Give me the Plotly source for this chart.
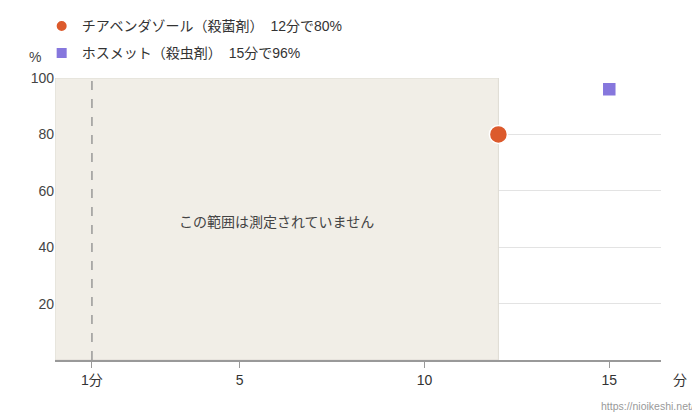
import plotly.graph_objects as go

# data
names = ["チアベンダゾール（殺菌剤）　12分で80%", "ホスメット（殺虫剤）　15分で96%"]
minutes = [12, 15]
percent = [80, 96]
colors = ["#dc5a2c", "#8677dd"]
symbols = ["circle", "square"]
sizes = [18, 14]

unmeasured_from = 0
unmeasured_to = 12
first_minute = 1

x_tickvals = [1, 5, 10, 15]
x_ticktext = ["1分", "5", "10", "15"]
y_tickvals = [20, 40, 60, 80, 100]

font_family = "Arial, Liberation Sans, Noto Sans CJK JP"

fig = go.Figure()
for i in range(len(names)):
    fig.add_trace(go.Scatter(
        x=[minutes[i]], y=[percent[i]], mode="markers", name=names[i],
        marker=dict(color=colors[i], symbol=symbols[i], size=sizes[i],
                    line=dict(color="white", width=1.5)),
        legend="legend" if i == 0 else "legend2",
        showlegend=True,
        cliponaxis=False,
    ))

# region that was not measured
fig.add_shape(type="rect", xref="x", yref="y",
              x0=unmeasured_from, x1=unmeasured_to, y0=0, y1=100,
              fillcolor="#f1eee7", line=dict(color="#dedbd4", width=1),
              layer="between")
fig.add_shape(type="line", xref="x", yref="y",
              x0=first_minute, x1=first_minute, y0=0, y1=100,
              line=dict(color="#8c8c8c", width=1.3, dash="dash"),
              layer="between")

fig.add_annotation(x=(unmeasured_from + unmeasured_to) / 2, y=49,
                   xref="x", yref="y", text="この範囲は測定されていません",
                   showarrow=False, font=dict(size=14, color="#444"))
fig.add_annotation(x=-0.02, y=1.04, xref="paper", yref="paper", text="%",
                   showarrow=False, xanchor="right", yanchor="bottom",
                   font=dict(size=14, color="#444"))
fig.add_annotation(x=1.017, y=-0.035, xref="paper", yref="paper", text="分",
                   showarrow=False, xanchor="left", yanchor="top",
                   font=dict(size=14, color="#333"))
fig.add_annotation(x=1.058, y=-0.19, xref="paper", yref="paper",
                   text="https://nioikeshi.net/", showarrow=False,
                   xanchor="right", yanchor="bottom",
                   font=dict(size=10.5, color="#999"))

legend_style = dict(x=-0.022, xanchor="left", yanchor="top",
                    bgcolor="rgba(0,0,0,0)", font=dict(size=14, color="#333"),
                    itemsizing="constant")
# page body has an 8px margin, so the figure is 8px smaller each way
fig.update_layout(
    width=692, height=412,
    margin=dict(l=47, r=39, t=70, b=60, autoexpand=False),
    showlegend=True,
    paper_bgcolor="white", plot_bgcolor="white",
    font=dict(family=font_family, size=14, color="#444"),
    legend=dict(y=1.24, **legend_style),
    legend2=dict(y=1.144, **legend_style),
    xaxis=dict(range=[0, 16.4], tickvals=x_tickvals, ticktext=x_ticktext,
               showgrid=False, zeroline=False, showline=True,
               linecolor="#999", linewidth=1.5, ticks="outside",
               tickcolor="#999", ticklen=6, tickfont=dict(size=14, color="#333")),
    yaxis=dict(range=[0, 100], tickvals=y_tickvals, showgrid=True,
               gridcolor="#e3e3e3", zeroline=False, showline=False,
               ticks="", tickfont=dict(size=14, color="#444")),
)

fig.write_html("out.html")
